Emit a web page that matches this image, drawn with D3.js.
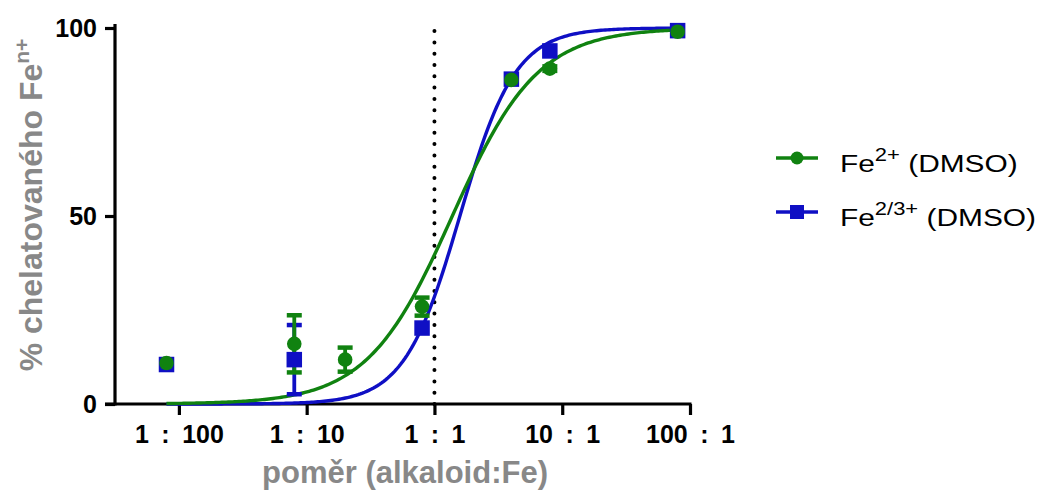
<!DOCTYPE html>
<html><head><meta charset="utf-8">
<script src="https://cdn.jsdelivr.net/npm/d3@7"></script>
<style>
html,body{margin:0;padding:0;background:#fff;}
svg{display:block;font-family:"Liberation Sans",Arial,sans-serif;}
</style></head>
<body>
<svg id="chart" width="1055" height="494"></svg>
<script>
// ---- data ----
const ratioTicks = [0.01, 0.1, 1, 10, 100];
const ratioTickLabels = ["1\u2002:\u2002100", "1\u2002:\u200210", "1\u2002:\u20021", "10\u2002:\u20021", "100\u2002:\u20021"];
const yTicks = [0, 50, 100];

const fe2X   = [0.008, 0.08, 0.2, 0.8, 4, 8, 80];
const fe2Y   = [10.9, 16.0, 11.8, 25.9, 86.2, 89.2, 99.0];
const fe2Err = [0, 7.6, 3.2, 2.4, 0, 0.6, 0];

const fe23X   = [0.008, 0.08, 0.8, 4, 8, 80];
const fe23Y   = [10.5, 11.8, 20.2, 86.4, 93.9, 99.3];
const fe23Err = [0, 9.2, 0, 0, 0, 0];

// fitted dose-response parameters (log EC50, Hill slope), curve range
const fe2Fit  = [0.14, 1.3];
const fe23Fit = [0.199, 2.0];
const fitRange = [0.008, 80];

const seriesNames = ["Fe", "Fe"];
const seriesSup = ["2+", "2/3+"];
const seriesSuffix = [" (DMSO)", " (DMSO)"];

// ---- drawing ----
const GREEN = "#108210", BLUE = "#0f0fc4", GREY = "#888888";
const svg = d3.select("#chart");
const x = d3.scaleLog().domain([Math.pow(10, -2.5), 100]).range([115, 690]);
const y = d3.scaleLinear().domain([0, 100]).range([404, 28]);

// dotted reference line at 1:1
svg.append("line")
  .attr("x1", x(1)).attr("x2", x(1))
  .attr("y1", y(0)).attr("y2", y(101.5))
  .attr("stroke", "#000").attr("stroke-width", 4)
  .attr("stroke-linecap", "round").attr("stroke-dasharray", "0 11.3");

// axes
const xAxis = d3.axisBottom(x).tickValues(ratioTicks)
  .tickFormat((d, i) => ratioTickLabels[i]).tickSize(11).tickPadding(10);
const gx = svg.append("g").attr("transform", `translate(0,${y(0)})`).call(xAxis);
gx.select(".domain").remove();
gx.append("line").attr("x1", 105).attr("x2", x(100) + 1.5).attr("y1", 0).attr("y2", 0)
  .attr("stroke", "#000").attr("stroke-width", 3.2);
gx.selectAll(".tick line").attr("stroke", "#000").attr("stroke-width", 3.2);
gx.selectAll(".tick text").attr("font-size", 25).attr("font-weight", "bold")
  .attr("fill", "#000").attr("font-family", "Liberation Sans, Arial, sans-serif");

const yAxis = d3.axisLeft(y).tickValues(yTicks).tickSize(10).tickPadding(8);
const gy = svg.append("g").attr("transform", `translate(${x.range()[0]},0)`).call(yAxis);
gy.select(".domain").remove();
gy.append("line").attr("x1", 0).attr("x2", 0).attr("y1", y(100) - 4).attr("y2", y(0) + 1.5)
  .attr("stroke", "#000").attr("stroke-width", 3.2);
gy.selectAll(".tick line").attr("stroke", "#000").attr("stroke-width", 3.2);
gy.selectAll(".tick text").attr("font-size", 25).attr("font-weight", "bold")
  .attr("fill", "#000").attr("font-family", "Liberation Sans, Arial, sans-serif");

// axis titles
svg.append("text").attr("x", 405).attr("y", 483).attr("text-anchor", "middle")
  .attr("font-size", 31).attr("font-weight", "bold").attr("fill", GREY)
  .text("poměr (alkaloid:Fe)");
const yt = svg.append("text").attr("transform", "translate(42,205) rotate(-90)")
  .attr("text-anchor", "middle").attr("font-size", 32).attr("font-weight", "bold").attr("fill", GREY);
yt.append("tspan").text("% chelatovaného Fe");
yt.append("tspan").attr("font-size", 21).attr("dy", -13).text("n+");

// fitted curves
function curvePts(fit) {
  const [logEC, h] = fit;
  const n = 240, a = Math.log10(fitRange[0]), b = Math.log10(fitRange[1]);
  return d3.range(n + 1).map(i => {
    const lx = a + (b - a) * i / n;
    return [Math.pow(10, lx), 100 / (1 + Math.pow(10, (logEC - lx) * h))];
  });
}
const line = d3.line().x(d => x(d[0])).y(d => y(d[1])).curve(d3.curveLinear);
svg.append("path").datum(curvePts(fe23Fit)).attr("d", line)
  .attr("fill", "none").attr("stroke", BLUE).attr("stroke-width", 3.4);
svg.append("path").datum(curvePts(fe2Fit)).attr("d", line)
  .attr("fill", "none").attr("stroke", GREEN).attr("stroke-width", 3.4);

function errBars(xs, ys, es, color) {
  const g = svg.append("g").attr("stroke", color).attr("stroke-width", 3.8);
  xs.forEach((xv, i) => {
    if (!es[i]) return;
    const cx = x(xv), y1 = y(ys[i] + es[i]), y2 = y(ys[i] - es[i]);
    g.append("line").attr("x1", cx).attr("x2", cx).attr("y1", y1).attr("y2", y2);
    [y1, y2].forEach(yy => g.append("line").attr("x1", cx - 7.5).attr("x2", cx + 7.5)
      .attr("y1", yy).attr("y2", yy).attr("stroke-width", 4.5));
  });
}
errBars(fe23X, fe23Y, fe23Err, BLUE);
errBars(fe2X, fe2Y, fe2Err, GREEN);

// markers
svg.append("g").selectAll("rect").data(fe23X).join("rect")
  .attr("x", (d) => x(d) - 7.75).attr("y", (d, i) => y(fe23Y[i]) - 7.75)
  .attr("width", 15.5).attr("height", 15.5).attr("fill", BLUE);
svg.append("g").selectAll("circle").data(fe2X).join("circle")
  .attr("cx", d => x(d)).attr("cy", (d, i) => y(fe2Y[i])).attr("r", 7.3).attr("fill", GREEN);

// legend
const legRows = [{c: GREEN, shape: "circle", yy: 158}, {c: BLUE, shape: "square", yy: 212}];
legRows.forEach((r, i) => {
  const g = svg.append("g");
  g.append("line").attr("x1", 776).attr("x2", 818).attr("y1", r.yy).attr("y2", r.yy)
    .attr("stroke", r.c).attr("stroke-width", 3.4);
  if (r.shape === "circle") g.append("circle").attr("cx", 797).attr("cy", r.yy).attr("r", 6.5).attr("fill", r.c);
  else g.append("rect").attr("x", 790).attr("y", r.yy - 7).attr("width", 14).attr("height", 14).attr("fill", r.c);
  const t = g.append("text").attr("transform", `translate(840,${r.yy + 14}) scale(1.22,1)`)
    .attr("font-size", 24.5).attr("fill", "#000");
  t.append("tspan").text(seriesNames[i]);
  t.append("tspan").attr("font-size", 18).attr("dy", -11).text(seriesSup[i]);
  t.append("tspan").attr("dy", 11).text(seriesSuffix[i]);
});
</script>
</body></html>
